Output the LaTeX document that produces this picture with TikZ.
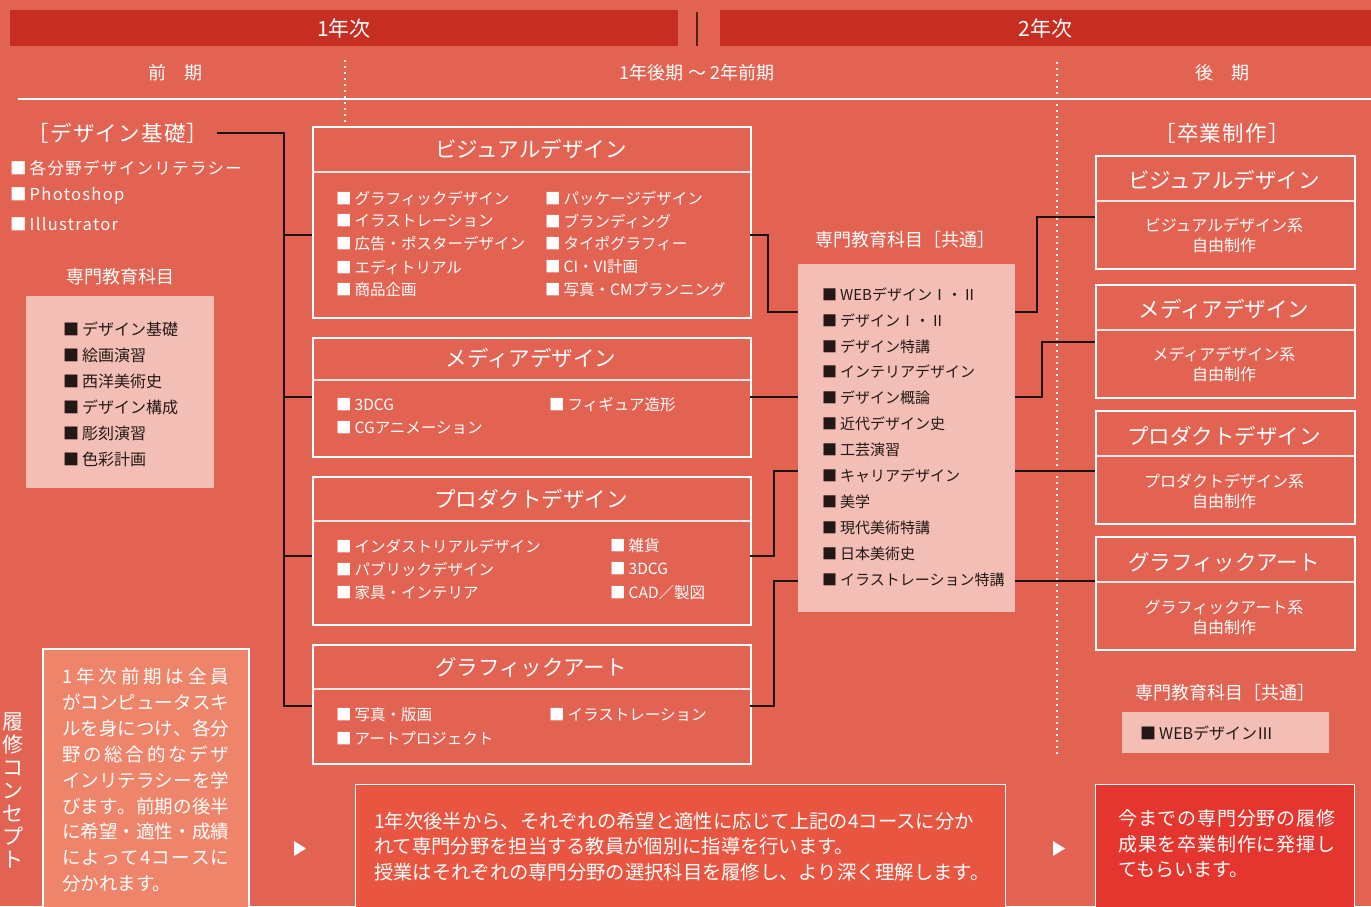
\documentclass[tikz,border=0pt]{standalone}
\usepackage{fontspec}
\setmainfont{Noto Sans CJK JP}
\newfontfamily\jpsp[LetterSpace=8]{Noto Sans CJK JP}
\newfontfamily\jpbr[LetterSpace=6]{Noto Sans CJK JP}
\definecolor{bg}{HTML}{E36352}
\definecolor{hdr}{HTML}{C62E22}
\definecolor{pinkbox}{HTML}{F2BEB6}
\definecolor{darktxt}{HTML}{231815}
\definecolor{connc}{HTML}{1C1311}
\definecolor{boxA}{HTML}{EE846A}
\definecolor{boxB}{HTML}{E85541}
\definecolor{boxC}{HTML}{E5352F}
\definecolor{sepline}{HTML}{5A1C14}
\newcommand{\sqi}[1]{■\hspace{3pt}#1}
\def\spreadfirst#1{#1\spreadrest}
\def\spreadrest#1{\ifx#1\relax\else\hfill#1\expandafter\spreadrest\fi}
\newcommand{\spreadline}[2]{\makebox[#1][s]{\spreadfirst#2\relax}}
\tikzset{
  conn/.style={draw=connc, line width=2.6pt},
  cbox/.style={draw=white, line width=2.2pt, anchor=north west, inner sep=0},
  divl/.style={draw=white!85!bg, line width=1.3pt},
  wt/.style={text=white, inner sep=0},
  hdrbar/.style={fill=hdr, text=white, inner sep=0, font=\fontsize{21}{24}\selectfont},
  subh/.style={wt, font=\fontsize{18}{20}\selectfont},
  ttl/.style={wt, font=\fontsize{21.5}{24}\selectfont},
  itmw/.style={wt, anchor=west, font=\fontsize{15.5}{18}\selectfont},
  itmd/.style={text=darktxt, inner sep=0, anchor=west, font=\fontsize{15}{18}\selectfont},
  lft/.style={wt, anchor=west, font=\jpsp\fontsize{16.5}{20}\selectfont},
  sub/.style={wt, align=center, font=\fontsize{16}{20}\selectfont},
  lbl/.style={wt, font=\fontsize{18}{22}\selectfont},
  brk/.style={wt, font=\jpbr\fontsize{21.5}{24}\selectfont},
  body/.style={wt, anchor=west, font=\fontsize{19.3}{24}\selectfont},
  dots/.style={white, line width=1.6pt, dash pattern=on 1.6pt off 4.4pt},
}
\begin{document}
\begin{tikzpicture}[x=1pt,y=-1pt]
\clip (0,0) rectangle (1371,906);
\fill[bg] (0,0) rectangle (1371,906);
% header
\node[hdrbar, minimum width=668pt, minimum height=36pt] (y1) at (344,28) {1年次};
\node[hdrbar, minimum width=651pt, minimum height=36pt] (y2) at (1045.5,28) {2年次};
\draw[sepline, line width=2pt] (697,12) -- (697,46);
\node[subh] (s1) at (175,73) {前　期};
\node[subh] (s2) at (697,73) {1年後期 〜 2年前期};
\node[subh] (s3) at (1222,73) {後　期};
\draw[white, line width=1.5pt] (18,99) -- (1371,99);
\draw[dots] (345,60) -- (345,125);
\draw[dots] (1057,62) -- (1057,755);
% left column
\node[brk, inner xsep=8pt] (kiso) at (118,133) {［デザイン基礎］};
\node[lft] (l1) at (10,168) {\sqi{各分野デザインリテラシー}};
\node[lft] (l2) at (10,196) {\sqi{Photoshop}};
\node[lft] (l3) at (10,224) {\sqi{Illustrator}};
\node[lbl] (senmon) at (120,277) {専門教育科目};
\node[fill=pinkbox, anchor=north west, minimum width=188pt, minimum height=192pt, inner sep=0] (pk1) at (26,296) {};
\node[itmd, font=\fontsize{16}{18}\selectfont] at (63,329) {\sqi{デザイン基礎}};
\node[itmd, font=\fontsize{16}{18}\selectfont] at (63,355) {\sqi{絵画演習}};
\node[itmd, font=\fontsize{16}{18}\selectfont] at (63,381) {\sqi{西洋美術史}};
\node[itmd, font=\fontsize{16}{18}\selectfont] at (63,407) {\sqi{デザイン構成}};
\node[itmd, font=\fontsize{16}{18}\selectfont] at (63,433) {\sqi{彫刻演習}};
\node[itmd, font=\fontsize{16}{18}\selectfont] at (63,459) {\sqi{色彩計画}};
% course boxes
\node[cbox, minimum width=438pt, minimum height=191pt] (vis) at (312,126) {};
\draw[divl] (312,172) -- (750,172);
\node[ttl] at (531,149) {ビジュアルデザイン};
\node[itmw] at (336,198) {\sqi{グラフィックデザイン}};
\node[itmw] at (336,221) {\sqi{イラストレーション}};
\node[itmw] at (336,244) {\sqi{広告・ポスターデザイン}};
\node[itmw] at (336,267) {\sqi{エディトリアル}};
\node[itmw] at (336,290) {\sqi{商品企画}};
\node[itmw] at (545,198) {\sqi{パッケージデザイン}};
\node[itmw] at (545,221) {\sqi{ブランディング}};
\node[itmw] at (545,244) {\sqi{タイポグラフィー}};
\node[itmw] at (545,267) {\sqi{CI・VI計画}};
\node[itmw] at (545,290) {\sqi{写真・CMプランニング}};

\node[cbox, minimum width=438pt, minimum height=119pt] (med) at (312,337) {};
\draw[divl] (312,380) -- (750,380);
\node[ttl] at (531,358) {メディアデザイン};
\node[itmw] at (336,405) {\sqi{3DCG}};
\node[itmw] at (336,428) {\sqi{CGアニメーション}};
\node[itmw] at (549,405) {\sqi{フィギュア造形}};

\node[cbox, minimum width=438pt, minimum height=148pt] (pro) at (312,476) {};
\draw[divl] (312,521) -- (750,521);
\node[ttl] at (531,499) {プロダクトデザイン};
\node[itmw] at (336,546) {\sqi{インダストリアルデザイン}};
\node[itmw] at (336,569) {\sqi{パブリックデザイン}};
\node[itmw] at (336,593) {\sqi{家具・インテリア}};
\node[itmw] at (610,546) {\sqi{雑貨}};
\node[itmw] at (610,569) {\sqi{3DCG}};
\node[itmw] at (610,593) {\sqi{CAD／製図}};

\node[cbox, minimum width=438pt, minimum height=119pt] (gra) at (312,644) {};
\draw[divl] (312,689) -- (750,689);
\node[ttl] at (531,667) {グラフィックアート};
\node[itmw] at (336,715) {\sqi{写真・版画}};
\node[itmw] at (336,738) {\sqi{アートプロジェクト}};
\node[itmw] at (549,715) {\sqi{イラストレーション}};

% common box
\node[lbl, font=\fontsize{18}{22}\selectfont] (comt) at (905,240) {専門教育科目［共通］};
\node[fill=pinkbox, anchor=north west, minimum width=217pt, minimum height=348pt, inner sep=0] (com) at (798,264) {};
\node[itmd] at (822,295) {\sqi{WEBデザインⅠ・Ⅱ}};
\node[itmd] at (822,321) {\sqi{デザインⅠ・Ⅱ}};
\node[itmd] at (822,347) {\sqi{デザイン特講}};
\node[itmd] at (822,372) {\sqi{インテリアデザイン}};
\node[itmd] at (822,398) {\sqi{デザイン概論}};
\node[itmd] at (822,424) {\sqi{近代デザイン史}};
\node[itmd] at (822,450) {\sqi{工芸演習}};
\node[itmd] at (822,476) {\sqi{キャリアデザイン}};
\node[itmd] at (822,502) {\sqi{美学}};
\node[itmd] at (822,528) {\sqi{現代美術特講}};
\node[itmd] at (822,554) {\sqi{日本美術史}};
\node[itmd] at (822,580) {\sqi{イラストレーション特講}};

% right column
\node[brk] (sotsu) at (1222,133) {［卒業制作］};
\node[cbox, minimum width=259pt, minimum height=113pt] (rb1) at (1095,155) {};
\draw[divl] (1095,201) -- (1354,201);
\node[ttl] at (1224,180) {ビジュアルデザイン};
\node[sub] at (1224,235) {ビジュアルデザイン系\\自由制作};
\node[cbox, minimum width=259pt, minimum height=113pt] (rb2) at (1095,284) {};
\draw[divl] (1095,330) -- (1354,330);
\node[ttl] at (1224,309) {メディアデザイン};
\node[sub] at (1224,364) {メディアデザイン系\\自由制作};
\node[cbox, minimum width=259pt, minimum height=113pt] (rb3) at (1095,410) {};
\draw[divl] (1095,456) -- (1354,456);
\node[ttl] at (1224,436) {プロダクトデザイン};
\node[sub] at (1224,491) {プロダクトデザイン系\\自由制作};
\node[cbox, minimum width=259pt, minimum height=113pt] (rb4) at (1095,536) {};
\draw[divl] (1095,582) -- (1354,582);
\node[ttl] at (1224,562) {グラフィックアート};
\node[sub] at (1224,617) {グラフィックアート系\\自由制作};
\node[lbl, font=\fontsize{18}{22}\selectfont] (comt2) at (1225,693) {専門教育科目［共通］};
\node[fill=pinkbox, anchor=north west, minimum width=207pt, minimum height=41pt, inner sep=0] (pk3) at (1122,712) {};
\node[itmd, font=\fontsize{16}{18}\selectfont] at (1140,733) {\sqi{WEBデザインⅢ}};

% connectors
\coordinate (visL) at (312,235);
\coordinate (medL) at (312,397);
\coordinate (proL) at (312,556);
\coordinate (graL) at (312,706);
\coordinate (tr) at (284,133);
\draw[conn] (kiso.east) -- (kiso.east -| tr) |- (graL);
\draw[conn] (tr |- visL) -- (visL);
\draw[conn] (tr |- medL) -- (medL);
\draw[conn] (tr |- proL) -- (proL);
\coordinate (visR) at (750,235);
\coordinate (medR) at (750,397);
\coordinate (proR) at (750,556);
\coordinate (graR) at (750,706);
\coordinate (comL1) at (798,312);
\coordinate (comL2) at (798,397);
\coordinate (comL3) at (798,471);
\coordinate (comL4) at (798,581);
\draw[conn] (visR) -- ++(18,0) |- (comL1);
\draw[conn] (medR) -- (comL2);
\draw[conn] (proR) -- ++(24,0) |- (comL3);
\draw[conn] (graR) -- ++(24,0) |- (comL4);
\coordinate (comR1) at (1015,312);
\coordinate (comR2) at (1015,397);
\coordinate (comR3) at (1015,471);
\coordinate (comR4) at (1015,581);
\coordinate (rb1L) at (1095,217);
\coordinate (rb2L) at (1095,342);
\coordinate (rb3L) at (1095,471);
\coordinate (rb4L) at (1095,581);
\draw[conn] (comR1) -- ++(22,0) |- (rb1L);
\draw[conn] (comR2) -- ++(27,0) |- (rb2L);
\draw[conn] (comR3) -- (rb3L);
\draw[conn] (comR4) -- (rb4L);

% bottom
\node[wt, align=center, font=\fontsize{21}{23}\selectfont] (vt) at (13,790) {履\\修\\コ\\ン\\セ\\プ\\ト};
\node[draw=white, line width=1.5pt, fill=boxA, anchor=north west, minimum width=206pt, minimum height=280pt, inner sep=0] (cA) at (42,648) {};
\node[body, font=\fontsize{18.5}{24}\selectfont] at (62,676) {\spreadline{167pt}{1年次前期は全員}};
\node[body, font=\fontsize{18.5}{24}\selectfont] at (62,702) {\spreadline{167pt}{がコンピュータスキ}};
\node[body, font=\fontsize{18.5}{24}\selectfont] at (62,728) {\spreadline{167pt}{ルを身につけ、各分}};
\node[body, font=\fontsize{18.5}{24}\selectfont] at (62,754) {\spreadline{167pt}{野の総合的なデザ}};
\node[body, font=\fontsize{18.5}{24}\selectfont] at (62,780) {\spreadline{167pt}{インリテラシーを学}};
\node[body, font=\fontsize{18.5}{24}\selectfont] at (62,806) {\spreadline{167pt}{びます。前期の後半}};
\node[body, font=\fontsize{18.5}{24}\selectfont] at (62,832) {\spreadline{167pt}{に希望・適性・成績}};
\node[body, font=\fontsize{18.5}{24}\selectfont] at (62,858) {\spreadline{167pt}{によって4コースに}};
\node[body, font=\fontsize{18.5}{24}\selectfont] at (62,884) {分かれます。};
\fill[white] (294,841) -- (306,848.5) -- (294,856) -- cycle;
\node[draw=white, line width=1.3pt, fill=boxB, anchor=north west, minimum width=650pt, minimum height=140pt, inner sep=0] (cB) at (355,784) {};
\node[body] at (374,821) {1年次後半から、それぞれの希望と適性に応じて上記の4コースに分か};
\node[body] at (374,846) {れて専門分野を担当する教員が個別に指導を行います。};
\node[body] at (374,872) {授業はそれぞれの専門分野の選択科目を履修し、より深く理解します。};
\fill[white] (1053,841) -- (1065,848.5) -- (1053,856) -- cycle;
\node[draw=white, line width=1.3pt, fill=boxC, anchor=north west, minimum width=259pt, minimum height=140pt, inner sep=0] (cC) at (1095,784) {};
\node[body, font=\fontsize{19}{24}\selectfont] at (1118,818) {\spreadline{217pt}{今までの専門分野の履修}};
\node[body, font=\fontsize{19}{24}\selectfont] at (1118,844) {\spreadline{217pt}{成果を卒業制作に発揮し}};
\node[body, font=\fontsize{19}{24}\selectfont] at (1118,870) {てもらいます。};
\end{tikzpicture}
\end{document}
